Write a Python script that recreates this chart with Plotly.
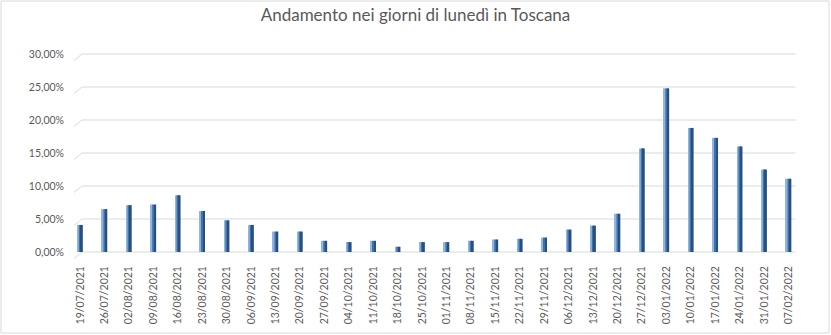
import plotly.graph_objects as go

dates = ["19/07/2021", "26/07/2021", "02/08/2021", "09/08/2021", "16/08/2021",
         "23/08/2021", "30/08/2021", "06/09/2021", "13/09/2021", "20/09/2021",
         "27/09/2021", "04/10/2021", "11/10/2021", "18/10/2021", "25/10/2021",
         "01/11/2021", "08/11/2021", "15/11/2021", "22/11/2021", "29/11/2021",
         "06/12/2021", "13/12/2021", "20/12/2021", "27/12/2021", "03/01/2022",
         "10/01/2022", "17/01/2022", "24/01/2022", "31/01/2022", "07/02/2022"]
values = [0.041, 0.065, 0.071, 0.072, 0.086,
          0.062, 0.048, 0.041, 0.031, 0.031,
          0.017, 0.015, 0.017, 0.008, 0.015,
          0.015, 0.017, 0.019, 0.020, 0.022,
          0.034, 0.040, 0.058, 0.157, 0.248,
          0.188, 0.173, 0.160, 0.125, 0.111]
y_ticks = [0, 0.05, 0.10, 0.15, 0.20, 0.25, 0.30]

W, H = 831, 335
L, R, T, B = 76, 36, 54, 83
PW = W - L - R
PH = H - T - B
YMAX = 0.30
n = len(dates)
idx = list(range(n))

fig = go.Figure()
# light left strip, mid face, dark right side (pseudo 3D column)
fig.add_trace(go.Bar(x=idx, y=values, width=0.06, offset=-0.11,
                     marker=dict(color="#8FB6E3", line=dict(width=0)),
                     hoverinfo="skip", showlegend=False))
fig.add_trace(go.Bar(x=idx, y=values, width=0.09, offset=-0.055,
                     marker=dict(color="#3F72AC", line=dict(width=0)),
                     showlegend=False))
fig.add_trace(go.Bar(x=idx, y=values, width=0.08, offset=0.03,
                     marker=dict(color="#28507E", line=dict(width=0)),
                     hoverinfo="skip", showlegend=False))

shapes = []
def px_to_paper_x(p):
    return (p - L) / PW
for v in y_ticks:
    yp = v / YMAX
    dy = 6.5 / PH
    shapes.append(dict(type="line", xref="paper", yref="paper",
                       x0=px_to_paper_x(74), y0=yp - dy, x1=px_to_paper_x(82), y1=yp,
                       line=dict(color="#D9D9D9", width=1), layer="below"))
    shapes.append(dict(type="line", xref="paper", yref="paper",
                       x0=px_to_paper_x(82), y0=yp, x1=px_to_paper_x(795.5), y1=yp,
                       line=dict(color="#D9D9D9", width=1.2), layer="below"))
# chart border
shapes.append(dict(type="rect", xref="paper", yref="paper",
                   x0=px_to_paper_x(1), x1=px_to_paper_x(829),
                   y0=1 - (333 - T) / PH, y1=1 + (T - 1) / PH,
                   line=dict(color="#D9D9D9", width=1), fillcolor="rgba(0,0,0,0)",
                   layer="below"))

fig.update_layout(
    width=W, height=H,
    margin=dict(l=L, r=R, t=T, b=B),
    paper_bgcolor="white", plot_bgcolor="white",
    barmode="overlay",
    separators=",.",
    font=dict(family="Lato, Carlito, sans-serif", color="#595959", size=10),
    title=dict(text="Andamento nei giorni di lunedì in Toscana",
               x=0.5, xanchor="center", xref="container", y=1 - 15 / H, yanchor="middle",
               font=dict(size=17, color="#595959", family="Lato, Carlito, sans-serif")),
    shapes=shapes,
    xaxis=dict(range=[-0.17, n - 1 + 0.26], tickmode="array", tickvals=idx, ticktext=dates,
               tickangle=-90, showgrid=False, zeroline=False, showline=False,
               ticks="", ticklabelstandoff=11, tickfont=dict(size=10.5, color="#595959")),
    yaxis=dict(range=[0, YMAX], tickmode="array", tickvals=y_ticks, tickformat=".2%",
               showgrid=False, zeroline=False, showline=False, ticks="",
               ticklabelstandoff=11, tickfont=dict(size=10.5, color="#595959")),
)

fig.write_html("out.html")
